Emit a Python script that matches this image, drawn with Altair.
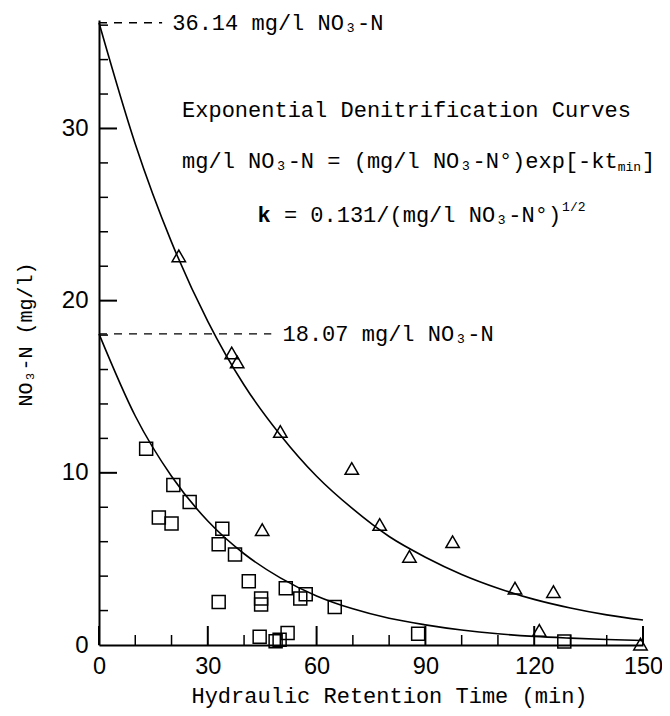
import altair as alt
import pandas as pd

# ---------------- data ----------------
# Square symbols (initial NO3-N ~ 18.07 mg/l)
sq_t = [13, 20.5, 25, 16.5, 20, 34, 33, 37.5, 41.3, 33, 44.7, 44.7, 51.5, 55.5, 57,
        65, 44.3, 48.7, 49.8, 52, 88, 128.3]
sq_v = [11.4, 9.3, 8.3, 7.4, 7.05, 6.75, 5.85, 5.25, 3.7, 2.5, 2.7, 2.35, 3.3, 2.7, 2.95,
        2.2, 0.48, 0.22, 0.3, 0.7, 0.65, 0.2]

# Triangle symbols (initial NO3-N ~ 36.14 mg/l)
tr_t = [22, 36.6, 38.1, 50, 45, 69.7, 77.4, 85.6, 97.5, 114.7, 125.3, 121.4, 149.3]
tr_v = [22.6, 16.96, 16.44, 12.4, 6.7, 10.25, 7.0, 5.15, 6.0, 3.3, 3.1, 0.85, 0.05]

# Fitted exponential curves
curve_t = [0, 10, 20, 30, 40, 50, 60, 70, 80, 90, 100, 110, 120, 130, 140, 150]
upper_v = [36.14, 29.1, 23.4, 18.8, 15.1, 12.2, 9.8, 7.9, 6.3, 5.1, 4.1, 3.3, 2.65, 2.15, 1.75, 1.45]
lower_v = [18.07, 13.3, 9.8, 7.2, 5.3, 3.9, 2.85, 2.1, 1.55, 1.17, 0.87, 0.65, 0.5, 0.4, 0.32, 0.26]

# Dashed reference lines to the initial concentrations
dash_y = [36.14, 18.07]
dash_end = [17.4, 47.5]
dash_label_x = [20.2, 50.6]
dash_labels = ["36.14 mg/l NO\u2083-N", "18.07 mg/l NO\u2083-N"]

# Axis tick values
x_major = [0, 30, 60, 90, 120, 150]
x_minor = [10, 20, 40, 50, 70, 80, 100, 110, 130, 140]
y_labels = [0, 10, 20, 30]
y_major = [10, 20, 30]
y_minor = [2, 4, 6, 8, 12, 14, 16, 18, 22, 24, 26, 28, 32, 34, 36]

X_DOM = [0, 150]
Y_DOM = [0, 36.3]
W, H = 544, 625

MONO = "Liberation Mono"
SANS = "Liberation Sans"
FS = 22
CW = FS * 0.6  # monospace advance

xs = alt.Scale(domain=X_DOM, nice=False, zero=False)
ys = alt.Scale(domain=Y_DOM, nice=False, zero=False)

xax = alt.Axis(values=x_major, ticks=False, grid=False, domainColor="black",
               domainWidth=2, labelFont=SANS, labelFontSize=23.5, labelColor="black",
               labelPadding=21, labelBaseline="middle", labelFlush=False,
               title="Hydraulic Retention Time (min)", titleFont=MONO, titleFontSize=22,
               titleFontWeight="normal", titleColor="black", titleX=290, titleY=50,
               titleBaseline="middle", titleAlign="center")
yax = alt.Axis(values=y_labels, ticks=False, grid=False, domainColor="black",
               domainWidth=2, labelFont=SANS, labelFontSize=24, labelColor="black",
               labelPadding=11, labelFlush=False,
               title="NO\u2083-N (mg/l)", titleFont=MONO, titleFontSize=20,
               titleFontWeight="normal", titleColor="black", titleX=-74, titleY=314,
               titleBaseline="middle", titleAlign="center", titleAngle=270)

sq_df = pd.DataFrame({"t": sq_t, "v": sq_v})
tr_df = pd.DataFrame({"t": tr_t, "v": tr_v})
up_df = pd.DataFrame({"t": curve_t, "v": upper_v})
lo_df = pd.DataFrame({"t": curve_t, "v": lower_v})
dash_df = pd.DataFrame({"t": [0, 0], "t2": dash_end, "v": dash_y})
dlab_df = pd.DataFrame({"t": dash_label_x, "v": dash_y, "s": dash_labels})

X = lambda: alt.X("t:Q", scale=xs, axis=xax)
Y = lambda: alt.Y("v:Q", scale=ys, axis=yax)

squares = alt.Chart(sq_df).mark_point(shape="square", size=169, filled=False,
                                      color="black", strokeWidth=1.5, opacity=1).encode(x=X(), y=Y())
triangles = alt.Chart(tr_df).mark_point(shape="triangle-up", size=180, filled=False,
                                        color="black", strokeWidth=1.5, opacity=1).encode(x=X(), y=Y())
upper = alt.Chart(up_df).mark_line(color="black", strokeWidth=1.6, interpolate="monotone").encode(x=X(), y=Y())
lower = alt.Chart(lo_df).mark_line(color="black", strokeWidth=1.6, interpolate="monotone").encode(x=X(), y=Y())
dashes = alt.Chart(dash_df).mark_rule(color="black", strokeWidth=1.3, strokeDash=[8, 7]).encode(
    x=X(), x2="t2:Q", y=Y())
dlabels = alt.Chart(dlab_df).mark_text(align="left", baseline="middle", font=MONO,
                                       fontSize=FS, color="black").encode(x=X(), y=Y(), text="s:N")

# inward tick marks
def xticks(vals, length, width):
    return alt.Chart(pd.DataFrame({"t": vals})).mark_rule(color="black", strokeWidth=width).encode(
        x=X(), y=alt.value(H), y2=alt.value(H - length))

def yticks(vals, length, width):
    return alt.Chart(pd.DataFrame({"v": vals})).mark_rule(color="black", strokeWidth=width).encode(
        y=Y(), x=alt.value(0), x2=alt.value(length))

# annotation text (equation block)
def txt(x, y, s, dx=0, dy=0, size=FS, weight="normal"):
    return alt.Chart(pd.DataFrame({"t": [x], "v": [y], "s": [s]})).mark_text(
        align="left", baseline="middle", font=MONO, fontSize=size, fontWeight=weight,
        color="black", dx=dx, dy=dy).encode(x=X(), y=Y(), text="s:N")

line1 = "Exponential Denitrification Curves"
line2 = "mg/l NO\u2083-N = (mg/l NO\u2083-N\u00b0)exp[-kt"
line3 = "= 0.131/(mg/l NO\u2083-N\u00b0)"
SUB = 13
texts = [
    txt(22.9, 31.1, line1),
    txt(22.9, 28.1, line2),
    txt(22.9, 28.1, "min", dx=len(line2) * CW, dy=6, size=SUB),
    txt(22.9, 28.1, "]", dx=len(line2) * CW + 3 * SUB * 0.6 + 1),
    txt(43.7, 25.0, "k", weight="bold"),
    txt(43.7, 25.0, line3, dx=2 * CW),
    txt(43.7, 25.0, "1/2", dx=2 * CW + len(line3) * CW + 1, dy=-8, size=SUB),
]

chart = alt.layer(
    upper, lower, dashes, dlabels,
    xticks(x_major, 19, 2), xticks(x_minor, 10, 1.5),
    yticks(y_major, 18, 2), yticks(y_minor, 9, 1.5),
    squares, triangles, *texts
).properties(
    width=W, height=H,
    autosize=alt.AutoSizeParams(type="none"),
    padding={"left": 91, "top": 12, "right": 19, "bottom": 63},
    background="white",
).configure_view(stroke=None)

chart.save("out.html", embed_options={"renderer": "svg", "actions": False})
